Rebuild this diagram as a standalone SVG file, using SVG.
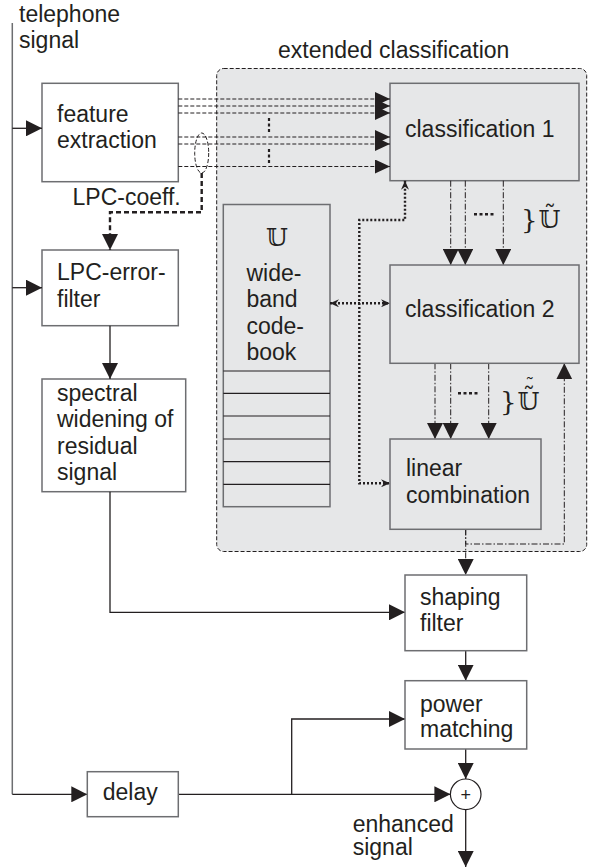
<svg xmlns="http://www.w3.org/2000/svg" width="594" height="868" viewBox="0 0 594 868">
<style>
text{font-family:"Liberation Sans",Arial,sans-serif;font-size:23px;fill:#231f20}
.box{fill:#fff;stroke:#6d6e71;stroke-width:1.5}
.gbox{fill:#e6e7e8;stroke:#6d6e71;stroke-width:1.5}
.ln{fill:none;stroke:#231f20;stroke-width:1.3}
.gl{fill:none;stroke:#6d6e71;stroke-width:1.5}
.dash{fill:none;stroke:#231f20;stroke-width:1;stroke-dasharray:4 2}
.dd{fill:none;stroke:#231f20;stroke-width:1;stroke-dasharray:6 2 1.5 2}
.dot{fill:none;stroke:#231f20;stroke-width:2.4;stroke-dasharray:2 2}
.tdash{fill:none;stroke:#231f20;stroke-width:2.4;stroke-dasharray:5 3}
.math{font-family:"DejaVu Serif","DejaVu Sans",serif;font-size:25px}
.brace{font-family:"DejaVu Serif","Liberation Serif",serif;font-size:26px}
.til{font-family:"DejaVu Serif",serif;font-size:18px}
</style>
<defs>
<marker id="ah" viewBox="0 0 16 16" markerWidth="16" markerHeight="16" refX="16" refY="8" orient="auto" markerUnits="userSpaceOnUse"><path d="M0,0 L16,8 L0,16 z" fill="#231f20"/></marker>
<marker id="ahs" viewBox="0 0 15 14" markerWidth="15" markerHeight="14" refX="15" refY="7" orient="auto" markerUnits="userSpaceOnUse"><path d="M0,0 L15,7 L0,14 z" fill="#231f20"/></marker>
<marker id="ahd" viewBox="0 0 9 8" markerWidth="9" markerHeight="8" refX="9" refY="4" orient="auto-start-reverse" markerUnits="userSpaceOnUse"><path d="M0,0 L9,4 L0,8 L3,4 z" fill="#231f20"/></marker>
</defs>

<g id="region">
<rect x="216.7" y="68.5" width="370" height="483" rx="7" fill="#e6e7e8" stroke="#231f20" stroke-width="1" stroke-dasharray="4 2"/>
<text x="278" y="58">extended classification</text>
</g>

<g id="input-label">
<text x="19" y="22">telephone</text>
<text x="19" y="48">signal</text>
</g>

<g id="feature-extraction">
<rect class="box" x="42" y="83.3" width="136.3" height="98.4"/>
<text x="57" y="122">feature</text>
<text x="57" y="148">extraction</text>
</g>

<g id="lpc-error-filter">
<rect class="box" x="42" y="250" width="136.3" height="75.7"/>
<text x="57" y="280">LPC-error-</text>
<text x="57" y="306.5">filter</text>
</g>

<g id="spectral-widening">
<rect class="box" x="42" y="379" width="143.7" height="112.7"/>
<text x="57" y="400.5">spectral</text>
<text x="57" y="427">widening of</text>
<text x="57" y="453.5">residual</text>
<text x="57" y="480">signal</text>
</g>

<g id="classification-1">
<rect class="gbox" x="390" y="83.3" width="189" height="97.4"/>
<text x="405" y="136.7">classification 1</text>
</g>

<g id="codebook">
<rect class="gbox" x="223.3" y="204.5" width="106.7" height="302.2"/>
<path d="M223.3,371 H330 M223.3,393.3 H330 M223.3,416 H330 M223.3,439 H330 M223.3,461.7 H330 M223.3,484.3 H330" stroke="#231f20" stroke-width="1.2" fill="none"/>
<text class="math" x="277" y="246" text-anchor="middle">𝕌</text>
<text x="246.5" y="280.5">wide-</text>
<text x="246.5" y="307">band</text>
<text x="246.5" y="333.5">code-</text>
<text x="246.5" y="360">book</text>
</g>

<g id="connectors">
<path class="gl" d="M12.3,23 V794.3"/>
<path class="ln" d="M12.3,794.3 H87.3" marker-end="url(#ah)"/>
<path class="ln" d="M12.3,128.3 H42" marker-end="url(#ah)"/>
<path class="ln" d="M12.3,287.7 H42" marker-end="url(#ah)"/>

<path class="dash" d="M178.3,99 H390" marker-end="url(#ahs)"/>
<path class="dash" d="M178.3,106 H390" marker-end="url(#ahs)"/>
<path class="dash" d="M178.3,113 H390" marker-end="url(#ahs)"/>
<path class="dash" d="M178.3,137 H390" marker-end="url(#ahs)"/>
<path class="dash" d="M178.3,144 H390" marker-end="url(#ahs)"/>
<path class="dash" d="M178.3,166.5 H390" marker-end="url(#ahs)"/>
<path d="M269,118 V132 M269,149 V163" fill="none" stroke="#231f20" stroke-width="2.2" stroke-dasharray="3 2.5"/>
<ellipse cx="201.7" cy="153" rx="7" ry="20" class="dash"/>
<text x="72.5" y="205">LPC-coeff.</text>
<path class="tdash" d="M201.7,173 V212.3 H110 V250" marker-end="url(#ah)"/>

<path class="ln" d="M110,325.7 V379" marker-end="url(#ah)"/>
<path class="ln" d="M110,491.7 V612.3 H405" marker-end="url(#ah)"/>

<path class="dd" d="M450.7,180.7 V265" marker-end="url(#ah)"/>
<path class="dd" d="M465.3,180.7 V265" marker-end="url(#ah)"/>
<path class="dd" d="M503.3,180.7 V265" marker-end="url(#ah)"/>
<path d="M474,214.3 H496" stroke="#231f20" stroke-width="2.4" stroke-dasharray="3 2.5" fill="none"/>
<text x="521" y="229"><tspan class="brace">}</tspan><tspan class="math" dx="1" dy="-1">𝕌̃</tspan></text>

<path class="dd" d="M435,363.3 V439" marker-end="url(#ah)"/>
<path class="dd" d="M450.7,363.3 V439" marker-end="url(#ah)"/>
<path class="dd" d="M488.7,363.3 V439" marker-end="url(#ah)"/>
<path d="M458,393.3 H480" stroke="#231f20" stroke-width="2.4" stroke-dasharray="3 2.5" fill="none"/>
<text x="500" y="411"><tspan class="brace">}</tspan><tspan class="math" dx="1" dy="-1">𝕌̃</tspan><tspan class="til" dx="-14" dy="-19">˜</tspan></text>

<path class="dot" d="M330,303.3 H390" marker-start="url(#ahd)" marker-end="url(#ahd)"/>
<path class="dot" d="M405,180.7 V220 H359.3 V483.3 H390" marker-start="url(#ahd)" marker-end="url(#ahd)"/>

<path class="dd" d="M465.7,529.3 V544 H564.3 V363.3" marker-end="url(#ah)"/>
<path class="dd" d="M465.7,529.3 V575" marker-end="url(#ah)"/>

<path class="ln" d="M465.7,650.7 V680.7" marker-end="url(#ah)"/>
<path class="ln" d="M465.7,749 V779" marker-end="url(#ah)"/>
<path class="ln" d="M178.3,794.3 H450.4" marker-end="url(#ah)"/>
<path class="ln" d="M291.7,794.3 V719 H405" marker-end="url(#ah)"/>
<path class="ln" d="M465.7,809.6 V867" marker-end="url(#ah)"/>
</g>

<g id="classification-2">
<rect class="gbox" x="390" y="265" width="189" height="98.3"/>
<text x="405" y="317.3">classification 2</text>
</g>

<g id="linear-combination">
<rect class="gbox" x="390" y="439" width="151" height="90.3"/>
<text x="406" y="476">linear</text>
<text x="406" y="503">combination</text>
</g>

<g id="shaping-filter">
<rect class="box" x="405" y="575" width="121.7" height="75.7"/>
<text x="420" y="605">shaping</text>
<text x="420" y="631">filter</text>
</g>

<g id="power-matching">
<rect class="box" x="405" y="680.7" width="121.7" height="68.3"/>
<text x="420" y="711.5">power</text>
<text x="420" y="737">matching</text>
</g>

<g id="delay">
<rect class="box" x="87.3" y="771.7" width="91" height="45"/>
<text x="102.7" y="800">delay</text>
</g>

<g id="sum">
<circle cx="465.7" cy="794.3" r="15.3" fill="#fff" stroke="#231f20" stroke-width="1.2"/>
<text x="465.7" y="801" text-anchor="middle" style="font-size:18px">+</text>
</g>

<g id="output-label">
<text x="352.7" y="831.5">enhanced</text>
<text x="352.7" y="855">signal</text>
</g>
</svg>
